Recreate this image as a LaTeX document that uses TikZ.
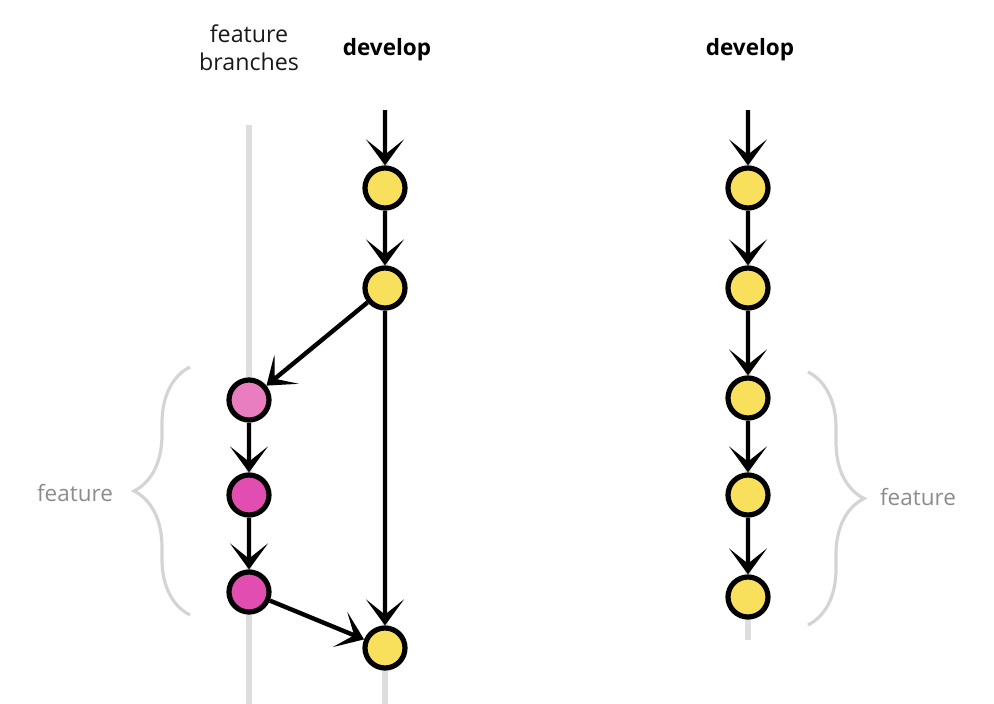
\documentclass[tikz,border=0pt]{standalone}
\usepackage{fontspec}
\setmainfont{Open Sans}
\usetikzlibrary{arrows.meta}
\usetikzlibrary{decorations.pathreplacing}
\definecolor{devyellow}{HTML}{F8DF5C}
\definecolor{featlight}{HTML}{EA7DC0}
\definecolor{featpink}{HTML}{E14DB1}
\definecolor{lanegray}{HTML}{DEDEDE}
\definecolor{bracegray}{HTML}{D4D4D4}
\definecolor{labelgray}{HTML}{8C8C8C}
\tikzset{
	commit/.style = {circle, draw=black, line width=0.13cm, minimum size=1cm,
		inner sep=0pt},
	dev_c/.style = {commit, fill=devyellow},% commit sur develop
	feat_a/.style = {commit, fill=featlight},% premier commit de la feature
	feat_c/.style = {commit, fill=featpink},% commit de la feature
	lane/.style = {draw=lanegray, line width=0.13cm},% fond de branche
	flow/.style = {->, line width=0.11cm},
	grp/.style = {decorate, decoration={brace, amplitude=1.4cm},
		draw=bracegray, line width=0.08cm},
	head/.style = {font=\bfseries\fontsize{16}{19}\selectfont, text=black},
	side/.style = {font=\fontsize{16.5}{20}\selectfont, align=center,
		text=black!90},
	grp_l/.style = {font=\fontsize{16}{19}\selectfont, text=labelgray}
}

\begin{document}
\begin{tikzpicture}[x=0.025cm, y=-0.025cm,
		>={Stealth[length=0.65cm, width=0.95cm, inset=0.38cm]}]
	\useasboundingbox (0,0) rectangle (994,704);
	% fonds de branches
	\coordinate (ft) at (249,125);
	\coordinate (fb) at (249,704);
	\coordinate (dt) at (385,110);
	\coordinate (db) at (385,704);
	\coordinate (rt) at (748,110);
	\coordinate (rb) at (748,640);
	\draw[lane] (ft) -- (fb);
	\draw[lane] (dt) -- (db);
	\draw[lane] (rt) -- (rb);
	% titres
	\node[side] (t_feat) at (249,48) {feature\\branches};
	\node[head] (t_dev) at (387,50) {develop};
	\node[head] (t_dev2) at (750,50) {develop};
	% avant
	\node[dev_c] (d1) at (385,188) {};
	\node[dev_c] (d2) at (385,288) {};
	\node[feat_a] (f1) at (249,400) {};
	\node[feat_c] (f2) at (249,495) {};
	\node[feat_c] (f3) at (249,592) {};
	\node[dev_c] (d3) at (385,648) {};
	\draw[flow] (dt) -- (d1);
	\draw[flow] (d1) -- (d2);
	\draw[flow] (d2) -- (f1);
	\draw[flow] (f1) -- (f2);
	\draw[flow] (f2) -- (f3);
	\draw[flow] (f3) -- (d3);
	\draw[flow] (d2) -- (d3);
	% apres
	\node[dev_c] (r1) at (748,188) {};
	\node[dev_c] (r2) at (748,288) {};
	\node[dev_c] (r3) at (748,398) {};
	\node[dev_c] (r4) at (748,495) {};
	\node[dev_c] (r5) at (748,597) {};
	\draw[flow] (rt) -- (r1);
	\draw[flow] (r1) -- (r2);
	\draw[flow] (r2) -- (r3);
	\draw[flow] (r3) -- (r4);
	\draw[flow] (r4) -- (r5);
	% accolades
	\coordinate (bl_b) at (190,615);
	\coordinate (bl_t) at (190,367);
	\coordinate (br_t) at (808,372);
	\coordinate (br_b) at (808,625);
	\draw[grp] (bl_b) -- (bl_t);
	\draw[grp] (br_t) -- (br_b);
	\node[grp_l] (l_feat) at (75,493) {feature};
	\node[grp_l] (r_feat) at (918,497) {feature};
\end{tikzpicture}
\end{document}
